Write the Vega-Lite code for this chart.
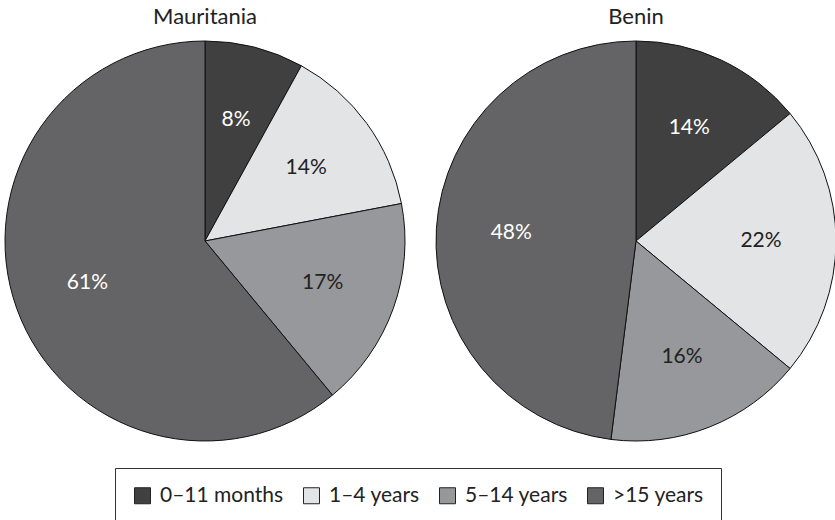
{
  "$schema": "https://vega.github.io/schema/vega-lite/v6.json",
  "autosize": {"type": "pad"},
  "padding": {"left": 3, "top": 6, "right": 0, "bottom": 0},
  "data": {"values": [
    {"country": "Mauritania", "group": "0–11 months", "k": 1, "pct": 8},
    {"country": "Mauritania", "group": "1–4 years", "k": 2, "pct": 14},
    {"country": "Mauritania", "group": "5–14 years", "k": 3, "pct": 17},
    {"country": "Mauritania", "group": ">15 years", "k": 4, "pct": 61},
    {"country": "Benin", "group": "0–11 months", "k": 1, "pct": 14},
    {"country": "Benin", "group": "1–4 years", "k": 2, "pct": 22},
    {"country": "Benin", "group": "5–14 years", "k": 3, "pct": 16},
    {"country": "Benin", "group": ">15 years", "k": 4, "pct": 48}
  ]},
  "transform": [{"calculate": "datum.pct + '%'", "as": "label"}],
  "facet": {"column": {"field": "country", "type": "nominal", "sort": ["Mauritania", "Benin"], "title": null,
    "header": {"labelFontSize": 22, "labelFont": "Lato", "labelColor": "#222222", "labelPadding": 10}}},
  "spacing": 27,
  "spec": {
    "width": 400,
    "height": 400,
    "encoding": {
      "theta": {"field": "pct", "type": "quantitative", "stack": true},
      "order": {"field": "k", "type": "quantitative", "sort": "ascending"}
    },
    "layer": [
      {"mark": {"type": "arc", "radius": 200, "stroke": "#111111", "strokeWidth": 1},
       "encoding": {"color": {"field": "group", "type": "nominal",
         "scale": {"domain": ["0–11 months", "1–4 years", "5–14 years", ">15 years"],
                   "range": ["#404040", "#e3e4e6", "#97989b", "#646466"]},
         "legend": {"title": null, "orient": "none", "direction": "horizontal", "legendX": 110, "legendY": 427}}}},
      {"mark": {"type": "text", "radius": 125, "fontSize": 21, "font": "Lato"},
       "encoding": {"text": {"field": "label"},
         "color": {"condition": {"test": "datum.k == 1 || datum.k == 4", "value": "white"}, "value": "#222222"}}}
    ]
  },
  "config": {
    "view": {"stroke": null},
    "legend": {"strokeColor": "#333333", "padding": 17, "symbolType": "square", "symbolSize": 256,
      "symbolStrokeColor": "#222222", "symbolStrokeWidth": 1, "symbolOpacity": 1,
      "labelFontSize": 21, "labelFont": "Lato", "labelColor": "#222222", "labelOffset": 7,
      "columnPadding": 17, "symbolOffset": 0}
  }
}
